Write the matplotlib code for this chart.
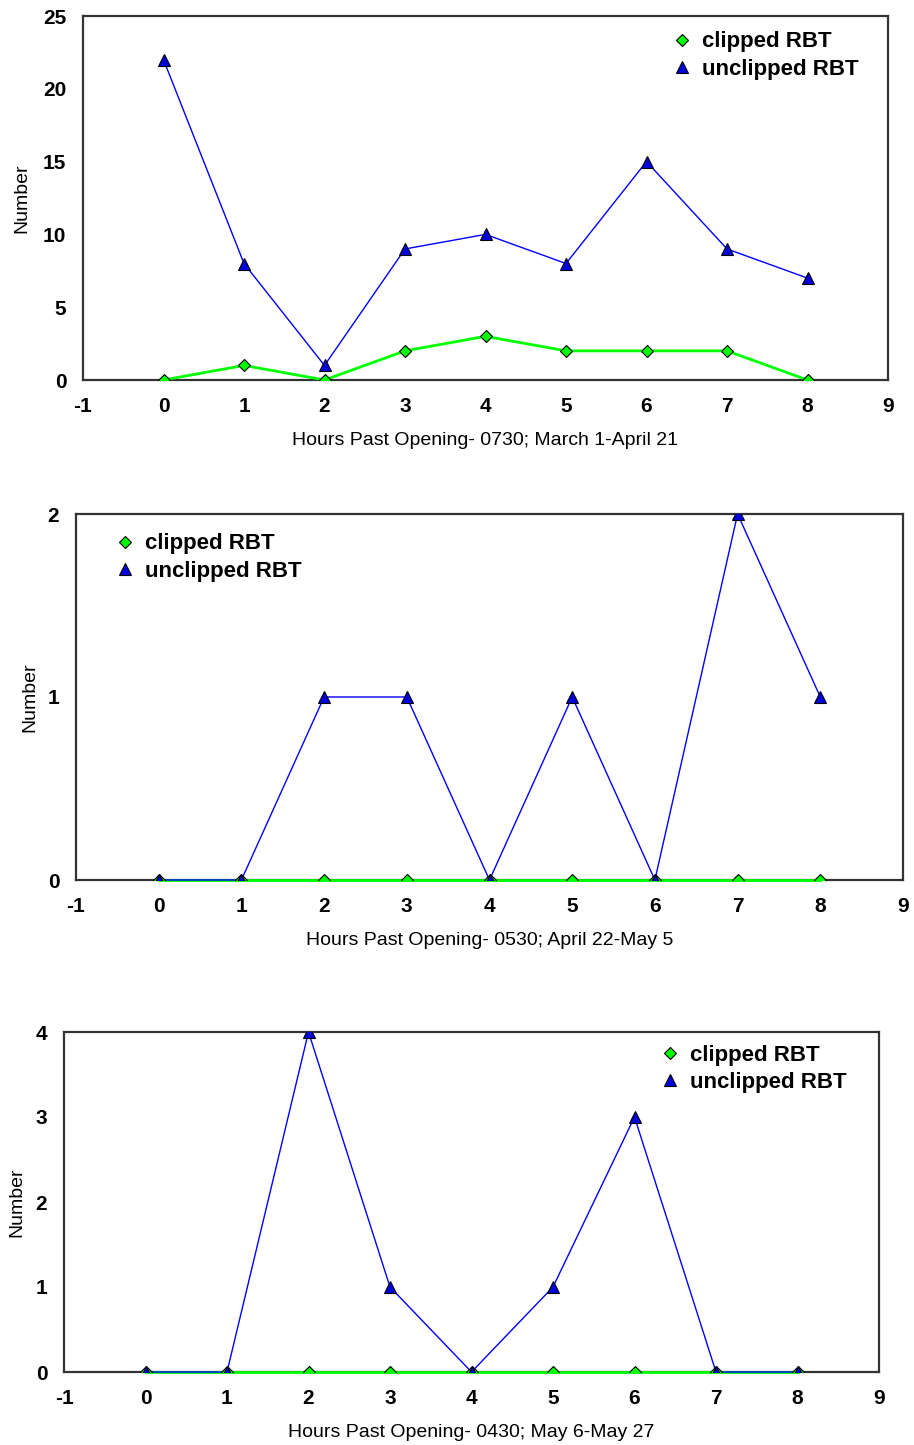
import matplotlib
matplotlib.use("Agg")
import matplotlib.pyplot as plt

hours = [0, 1, 2, 3, 4, 5, 6, 7, 8]

clipped_1 = [0, 1, 0, 2, 3, 2, 2, 2, 0]
unclipped_1 = [22, 8, 1, 9, 10, 8, 15, 9, 7]
clipped_2 = [0, 0, 0, 0, 0, 0, 0, 0, 0]
unclipped_2 = [0, 0, 1, 1, 0, 1, 0, 2, 1]
clipped_3 = [0, 0, 0, 0, 0, 0, 0, 0, 0]
unclipped_3 = [0, 0, 4, 1, 0, 1, 3, 0, 0]

xlabels = ["Hours Past Opening- 0730; March 1-April 21",
           "Hours Past Opening- 0530; April 22-May 5",
           "Hours Past Opening- 0430; May 6-May 27"]
yticks = [[0, 5, 10, 15, 20, 25], [0, 1, 2], [0, 1, 2, 3, 4]]

W, H = 914, 1445
# axes boxes in pixels: left, top, right, bottom
boxes = [(83, 16, 888, 380), (76, 514, 903, 880), (64, 1032, 879, 1372)]
legend_pos = [(0.733, 0.958), (0.048, 0.947), (0.733, 0.963)]
ylab_x = [-0.065, -0.046, -0.048]

plt.rcParams['font.family'] = ['Liberation Sans', 'DejaVu Sans']
plt.rcParams['axes.unicode_minus'] = False

fig = plt.figure(figsize=(W / 100, H / 100), dpi=100)

data = [(clipped_1, unclipped_1), (clipped_2, unclipped_2), (clipped_3, unclipped_3)]

for i, (cl, uc) in enumerate(data):
    l, t, r, b = boxes[i]
    ax = fig.add_axes([l / W, 1 - b / H, (r - l) / W, (b - t) / H])
    # lines (not clipped so they sit fully on the zero line)
    ax.plot(hours, cl, color="#00ff00", lw=2.0, zorder=3, clip_on=False)
    ax.plot(hours, uc, color="#0000ff", lw=1.0, zorder=4, clip_on=False)
    # markers
    ax.plot(hours, cl, ls="None", marker="D", markersize=6,
            markerfacecolor="#00ff00", markeredgecolor="black", markeredgewidth=0.8,
            label="clipped RBT", zorder=5)
    ax.plot(hours, uc, ls="None", marker="^", markersize=8,
            markerfacecolor="#0000dd", markeredgecolor="black", markeredgewidth=0.8,
            label="unclipped RBT", zorder=6)
    ax.set_xlim(-1, 9)
    ax.set_ylim(0, yticks[i][-1])
    ax.set_xticks(range(-1, 10))
    ax.set_yticks(yticks[i])
    ax.tick_params(length=0, labelsize=15, pad=12)
    for lab in ax.get_xticklabels() + ax.get_yticklabels():
        lab.set_fontweight("bold")
    for sp in ax.spines.values():
        sp.set_color("#333333")
        sp.set_linewidth(1.6)
    ax.set_xlabel(xlabels[i], fontsize=14, labelpad=12)
    ax.set_ylabel("Number", fontsize=14)
    ax.yaxis.set_label_coords(ylab_x[i], 0.5)
    ax.legend(loc="upper left", bbox_to_anchor=legend_pos[i], frameon=False,
              borderaxespad=0, borderpad=0, handlelength=0.8,
              handletextpad=0.5, labelspacing=0.28,
              prop={"weight": "bold", "size": 16})

fig.savefig("out.png", dpi=100)
